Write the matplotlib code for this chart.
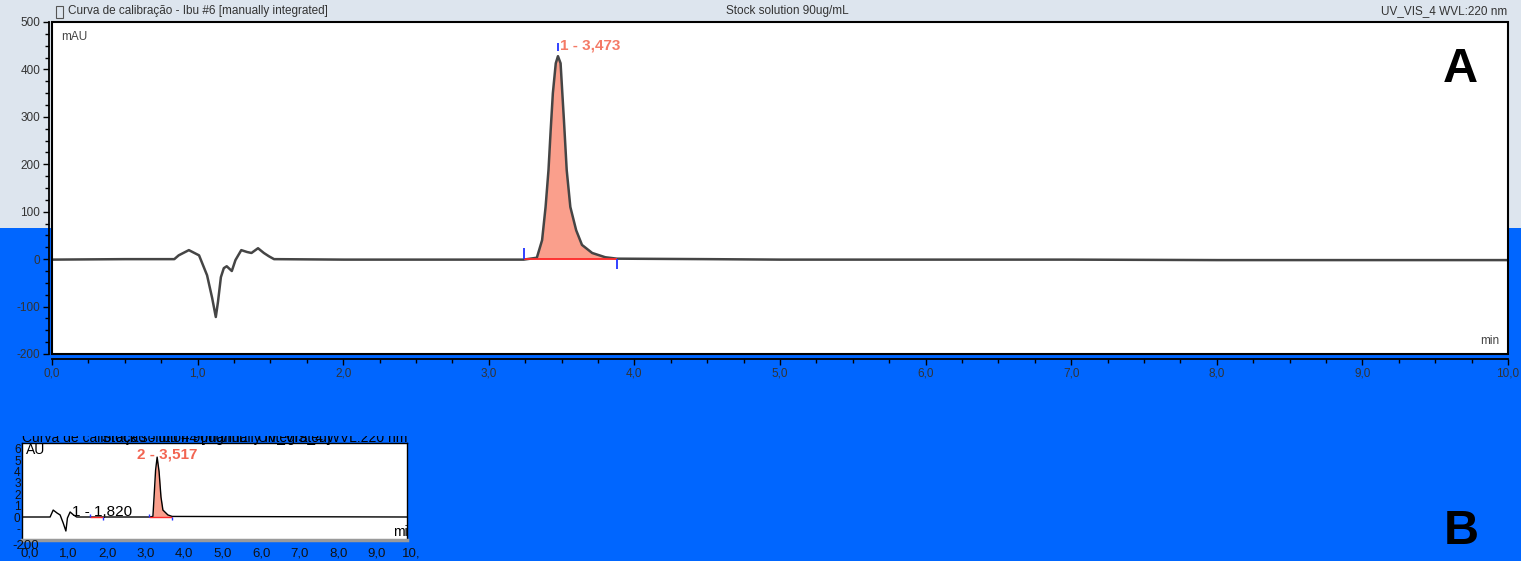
import matplotlib
matplotlib.use('Agg')
import matplotlib.pyplot as plt
from matplotlib.patches import Rectangle

plt.rcParams['font.family'] = ['Liberation Sans', 'DejaVu Sans']
plt.rcParams['axes.unicode_minus'] = False

# Main chromatogram (A): time in min, signal in mAU
trace_time = [0.0, 0.5, 0.84, 0.87, 0.94, 1.01, 1.065, 1.10, 1.125, 1.14, 1.16, 1.18,
              1.20, 1.235, 1.26, 1.30, 1.34, 1.37, 1.415, 1.455, 1.49, 1.525, 2.0, 2.5,
              3.0, 3.24, 3.33, 3.366, 3.39, 3.41, 3.425, 3.44, 3.46, 3.475, 3.493, 3.505,
              3.516, 3.535, 3.56, 3.60, 3.64, 3.71, 3.80, 3.88, 4.5, 5.0, 6.0, 7.0, 8.0,
              9.0, 10.0]
trace_mau = [-1, 0, 0, 8, 19, 8, -34, -82, -122, -90, -38, -19,
             -15, -25, -2, 19, 15, 13, 23, 13, 6, 0, -1, -1,
             -1, -1, 3, 40, 110, 188, 272, 350, 413, 428, 413, 350,
             293, 188, 110, 61, 30, 13, 4, 1, 0, -1, -1, -1, -2,
             -2, -2]
peak_start, peak_apex, peak_end = 3.24, 3.475, 3.88
peak_label = '1 - 3,473'

x_ticks = [0, 1, 2, 3, 4, 5, 6, 7, 8, 9, 10]
x_labels = ['0,0', '1,0', '2,0', '3,0', '4,0', '5,0', '6,0', '7,0', '8,0', '9,0', '10,0']
y_ticks = [500, 400, 300, 200, 100, 0, -100, -200]

# Small pasted chromatogram (B)
inset_time = [-0.21, 0.52, 0.6, 0.7, 0.78, 0.86, 0.93, 0.97, 1.04, 1.12, 1.21, 1.56, 1.90,
              3.09, 3.19, 3.22, 3.26, 3.30, 3.35, 3.40, 3.45, 3.58, 3.69, 9.79]
inset_mau = [0, 0, 61, 35, 18, -53, -123, -9, 44, 20, 0, 0, 0,
             0, 5, 175, 412, 526, 400, 175, 61, 18, 5, 0]
inset_peaks = [(1.56, 1.90), (3.09, 3.69)]
inset_y_ticks = [600, 500, 400, 300, 200, 100, 0, -100]
inset_y_labels = ['6', '5', '4', '3', '2', '1', '0', '-']

W, H = 1521, 561
fig = plt.figure(figsize=(W / 100, H / 100), dpi=100, facecolor='#dde5ee')
fig.patches.append(Rectangle((0, 0), 1, 1 - 228 / H, transform=fig.transFigure,
                             facecolor='#0066ff', edgecolor='none', zorder=-1))

# ---- chart A ----
ax = fig.add_axes([52 / W, 1 - 354 / H, (1508 - 52) / W, (354 - 22) / H])
ax.set_xlim(0, 10)
ax.set_ylim(-200, 500)
ax.plot(trace_time, trace_mau, color='#454545', lw=1.8, zorder=3)
mask = [peak_start <= t <= peak_end for t in trace_time]
ax.fill_between(trace_time, trace_mau, 0, where=mask, color='#fa9f8c', lw=0, zorder=2)
ax.hlines(0, peak_start, peak_end, color='#ff2a2a', lw=1.3, zorder=4)
ax.vlines(peak_start, 0, 23, color='#2233ff', lw=1.3, zorder=5)
ax.vlines(peak_end, 0, -20, color='#2233ff', lw=1.3, zorder=5)
ax.vlines(peak_apex, 438, 455, color='#2233ff', lw=1.3, zorder=5)
ax.text(3.49, 451, peak_label, color='#f47a66', fontsize=11, fontweight='bold',
        ha='left', va='center')
ax.text(0.006, 0.955, 'mAU', transform=ax.transAxes, fontsize=8.5, color='#444444',
        ha='left', va='center')
ax.text(0.994, 0.04, 'min', transform=ax.transAxes, fontsize=8.5, color='#444444',
        ha='right', va='center')

ax.set_xticks(x_ticks)
ax.set_xticklabels(x_labels)
ax.set_xticks([i * 0.25 for i in range(41)], minor=True)
ax.set_yticks(y_ticks)
ax.set_yticks([-200 + 25 * i for i in range(29)], minor=True)
ax.spines['left'].set_position(('outward', 2))
ax.spines['bottom'].set_position(('outward', 3.5))
for s in ax.spines.values():
    s.set_linewidth(1.3)
ax.add_patch(Rectangle((0, 0), 1, 1, transform=ax.transAxes, fill=False,
                       edgecolor='black', lw=1.5, clip_on=False, zorder=6))
ax.tick_params(which='major', direction='out', length=4.5, width=1, labelsize=8.5,
               labelcolor='#333333', pad=2)
ax.tick_params(which='minor', direction='out', length=3, width=1)

fig.text(68 / W, 1 - 11 / H, 'Curva de calibração - Ibu #6 [manually integrated]',
         fontsize=8.5, color='#333333', ha='left', va='center')
fig.patches.append(Rectangle((56 / W, 1 - 18 / H), 7 / W, 12 / H, transform=fig.transFigure,
                             fill=False, edgecolor='#555555', lw=0.8))
fig.text(787 / W, 1 - 11 / H, 'Stock solution 90ug/mL', fontsize=8.5, color='#333333',
         ha='center', va='center')
fig.text(1507 / W, 1 - 11 / H, 'UV_VIS_4 WVL:220 nm', fontsize=8.5, color='#333333',
         ha='right', va='center')
fig.text(1460 / W, 1 - 70 / H, 'A', fontsize=35, fontweight='bold', color='black',
         ha='center', va='center')
fig.text(1461 / W, 1 - 532 / H, 'B', fontsize=35, fontweight='bold', color='black',
         ha='center', va='center')

# ---- chart B (small inset) ----
iax = fig.add_axes([22 / W, 1 - 540 / H, 385 / W, 97 / H])
iax.set_xlim(-0.21, 9.79)
iax.set_ylim(-202, 650)
iax.plot(inset_time, inset_mau, color='black', lw=1.0, zorder=3)
for start, end in inset_peaks:
    m = [start <= t <= end for t in inset_time]
    if start > 3:
        iax.fill_between(inset_time, inset_mau, 0, where=m, color='#fa9f8c', lw=0, zorder=2)
    iax.hlines(-4, start, end, color='#ff2a2a', lw=1.0, zorder=4)
    iax.vlines(start, 0, 30, color='#2233ff', lw=1.0, zorder=5)
    iax.vlines(end, 0, -30, color='#2233ff', lw=1.0, zorder=5)
iax.text(1.09, 44, '1 - 1,820', fontsize=11, color='black', ha='left', va='center')
iax.text(2.78, 553, '2 - 3,517', fontsize=11, fontweight='bold', color='#f26552',
         ha='left', va='center')
iax.text(0.01, 0.93, 'AU', transform=iax.transAxes, fontsize=10, color='black',
         ha='left', va='center')
iax.text(0.965, 0.08, 'min', transform=iax.transAxes, fontsize=10, color='black',
         ha='left', va='center', clip_on=True)
iax.set_xticks([])
iax.set_yticks(inset_y_ticks)
iax.set_yticklabels(inset_y_labels)
iax.tick_params(axis='y', length=0, labelsize=8.5, pad=1, labelcolor='#111111')
for s in iax.spines.values():
    s.set_linewidth(1.0)
iax.spines['bottom'].set_color('#9a9a9a')
iax.spines['bottom'].set_linewidth(2.5)
for v, lab in zip(x_ticks, x_labels):
    iax.text(v, -0.14, lab, transform=iax.get_xaxis_transform(), fontsize=9.5,
             color='#111111', ha='center', va='center', clip_on=False)
fig.text(12 / W, 1 - 546 / H, '-200', fontsize=9.5, color='#111111', ha='left', va='center')

fig.text(22 / W, 1 - 438 / H, 'Curva de calibração - Ibu #4 [manually integrated]',
         fontsize=10, color='black', ha='left', va='center')
fig.text(407 / W, 1 - 438 / H, 'Stock solution 90ug/mL   UV_VIS_4 WVL:220 nm',
         fontsize=10, color='black', ha='right', va='center')
fig.patches.append(Rectangle((10 / W, 1 - 436 / H), 415 / W, 14 / H, transform=fig.transFigure,
                             facecolor='#0066ff', edgecolor='none', zorder=10))
fig.patches.append(Rectangle((420 / W, 0), 30 / W, 25 / H, transform=fig.transFigure,
                             facecolor='#0066ff', edgecolor='none', zorder=10))

fig.savefig('out.png', dpi=100, facecolor=fig.get_facecolor())
